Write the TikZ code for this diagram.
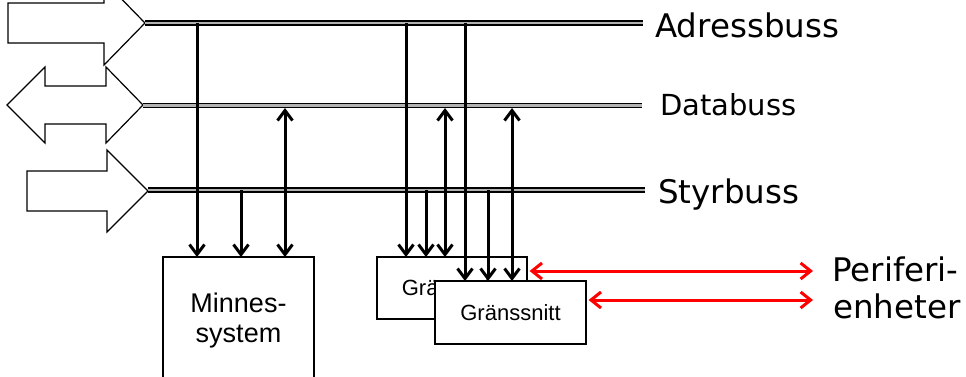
\documentclass[tikz,border=0pt]{standalone}
\usepackage{fontspec}
\usetikzlibrary{arrows.meta}
\newfontfamily\busfont{DejaVu Sans}
\newfontfamily\boxfont{Liberation Sans}

\begin{document}
\begin{tikzpicture}[x=1pt, y=-1pt,
  bus/.style={line width=1.5pt, double=gray!60, double distance=2.6pt},
  bigarrow/.style={draw=black, line width=1.2pt, fill=white, line join=miter},
  sig/.style={draw, line width=3pt, -{Straight Barb[length=10pt,width=15pt]}},
  bisig/.style={draw, line width=3pt, shorten <=2.5pt,
    {Straight Barb[length=10pt,width=15pt]}-{Straight Barb[length=10pt,width=15pt]}},
  perif/.style={draw=red, line width=3pt, shorten <=2pt,
    {Straight Barb[length=10pt,width=16pt]}-{Straight Barb[length=10pt,width=16pt]}},
  unitbox/.style={draw, line width=1.2pt, fill=white, inner sep=0pt, align=center},
  lbl/.style={inner sep=0pt, anchor=base west, font=\busfont\fontsize{32.5}{39}\selectfont}]
  \useasboundingbox (0,0) rectangle (966,376);
  \clip (0,0) rectangle (966,376);

  % Bus arrows on the left
  \draw[bigarrow] (8,3) -- (104,3) -- (104,-19) -- (145,23) -- (104,65) -- (104,43) -- (8,43) -- cycle;
  \draw[bigarrow] (7,105) -- (45,67) -- (45,86) -- (106,86) -- (106,67) -- (143,105)
    -- (106,143) -- (106,124) -- (45,124) -- (45,143) -- cycle;
  \draw[bigarrow] (27,171) -- (107,171) -- (107,150) -- (148,191) -- (107,232) -- (107,211) -- (27,211) -- cycle;

  % Buses
  \coordinate (adr) at (145,23);
  \coordinate (dat) at (143,105.5);
  \coordinate (styr) at (148,190);
  \coordinate (adrE) at (643,23);
  \coordinate (datE) at (642,105.5);
  \coordinate (styrE) at (645,190);
  \draw[bus] (adr) -- (adrE);
  \draw[bus] (dat) -- (datE);
  \draw[bus] (styr) -- (styrE);

  \node[lbl] (adrL) at (655,37) {Adressbuss};
  \node[lbl, font=\busfont\fontsize{29}{35}\selectfont] (datL) at (660,115) {Databuss};
  \node[lbl] (styrL) at (658,203) {Styrbuss};

  % Units
  \node[unitbox, minimum width=151pt, minimum height=128pt,
    font=\boxfont\fontsize{27}{30}\selectfont] (minne) at (238.5,321) {Minnes-\\system};
  \node[unitbox, minimum width=150pt, minimum height=62pt,
    font=\boxfont\fontsize{22}{26}\selectfont] (grans1) at (452,288) {Gränssnitt};
  \node[unitbox, minimum width=151pt, minimum height=63pt,
    font=\boxfont\fontsize{22}{26}\selectfont] (grans2) at (510.5,312.5) {Gränssnitt};

  % Signals to the memory
  \coordinate (m1) at (197,257);
  \coordinate (m2) at (241,257);
  \coordinate (m3) at (285,257);
  \draw[sig] (m1 |- adr) -- (m1);
  \draw[sig] (m2 |- styr) -- (m2);
  \draw[bisig] (m3 |- dat) -- (m3);

  % Signals to the interfaces
  \coordinate (g1a) at (406,257);
  \coordinate (g1b) at (426,257);
  \coordinate (g1c) at (445,257);
  \draw[sig] (g1a |- adr) -- (g1a);
  \draw[sig] (g1b |- styr) -- (g1b);
  \draw[bisig] (g1c |- dat) -- (g1c);

  \coordinate (g2a) at (465,281);
  \coordinate (g2b) at (488,281);
  \coordinate (g2c) at (512,281);
  \draw[sig] (g2a |- adr) -- (g2a);
  \draw[sig] (g2b |- styr) -- (g2b);
  \draw[bisig] (g2c |- dat) -- (g2c);

  % Peripherals
  \coordinate (per1) at (813,271);
  \coordinate (per2) at (813,300);
  \draw[perif] (per1 -| grans1.east) -- (per1);
  \draw[perif] (per2 -| grans2.east) -- (per2);
  \node[lbl] (perL1) at (832,281) {Periferi-};
  \node[lbl] (perL2) at (833,318) {enheter};
\end{tikzpicture}
\end{document}
